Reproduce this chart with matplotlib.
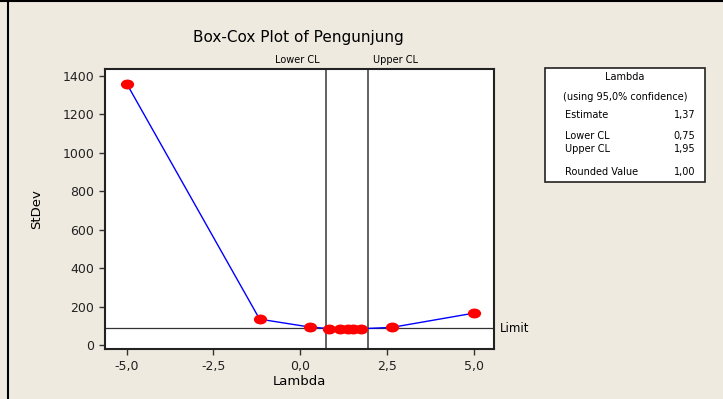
import matplotlib
matplotlib.use("Agg")
import matplotlib.pyplot as plt
from matplotlib.patches import Rectangle
from matplotlib.path import Path
import numpy as np

# Box-Cox data
lam = [-5.0, -1.17, 0.27, 0.82, 1.14, 1.37, 1.51, 1.74, 2.64, 5.0]
stdev = [1360, 135, 94, 86, 85, 84, 85, 85, 92, 166]
limit = 88
lower_cl = 0.75
upper_cl = 1.95
xticks = [-5.0, -2.5, 0.0, 2.5, 5.0]
yticks = [0, 200, 400, 600, 800, 1000, 1200, 1400]

bg = "#eeeae0"
fig = plt.figure(figsize=(7.23, 3.99), dpi=100, facecolor=bg)

# outer frame (top and left edges visible)
fig.add_artist(plt.Line2D([0.011, 0.011], [0, 1], color="black", lw=1.5, transform=fig.transFigure))
fig.add_artist(plt.Line2D([0, 1], [0.998, 0.998], color="black", lw=1.5, transform=fig.transFigure))

# slightly flattened dot marker like the original
circ = Path.unit_circle()
ellipse = Path(circ.vertices * np.array([1.0, 0.72]), circ.codes)

ax = fig.add_axes([0.145, 0.125, 0.538, 0.702])
ax.set_facecolor("white")
ax.plot(lam, stdev, color="blue", lw=1, zorder=2)
ax.plot(lam, stdev, ls="none", marker=ellipse, color="red", ms=8.5, mec="red", zorder=3)
ax.axhline(limit, color="#333333", lw=0.9, zorder=1)
ax.axvline(lower_cl, color="#555555", lw=1.3, zorder=1)
ax.axvline(upper_cl, color="#555555", lw=1.3, zorder=1)

ax.set_xlim(-5.63, 5.58)
ax.set_ylim(-21, 1436)
ax.set_xticks(xticks)
ax.set_xticklabels([f"{t:.1f}".replace(".", ",") for t in xticks])
ax.set_yticks(yticks)
ax.tick_params(labelsize=9, length=4, width=1, color="#333333", labelcolor="#222222")
for s in ax.spines.values():
    s.set_linewidth(1.5)
    s.set_color("#222222")

ax.set_xlabel("Lambda", fontsize=9.5, labelpad=2)
ax.set_ylabel("StDev", fontsize=9.5, labelpad=14)

ax.text(lower_cl - 0.2, 1.015, "Lower CL", transform=ax.get_xaxis_transform(),
        ha="right", va="bottom", fontsize=7)
ax.text(upper_cl + 0.15, 1.015, "Upper CL", transform=ax.get_xaxis_transform(),
        ha="left", va="bottom", fontsize=7)
ax.text(1.015, limit, "Limit", transform=ax.get_yaxis_transform(),
        ha="left", va="center", fontsize=8.5)

fig.text(0.412, 0.905, "Box-Cox Plot of Pengunjung", ha="center", va="center", fontsize=11)

# info box
box = Rectangle((0.754, 0.545), 0.221, 0.285, transform=fig.transFigure,
                facecolor="white", edgecolor="#222222", lw=1.2)
fig.add_artist(box)
fs = 7
fig.text(0.8645, 0.807, "Lambda", ha="center", va="center", fontsize=fs)
fig.text(0.8645, 0.757, "(using 95,0% confidence)", ha="center", va="center", fontsize=fs)
rows = [("Estimate", "1,37", 0.713), ("Lower CL", "0,75", 0.660),
        ("Upper CL", "1,95", 0.627), ("Rounded Value", "1,00", 0.570)]
for name, val, y in rows:
    fig.text(0.782, y, name, ha="left", va="center", fontsize=fs)
    fig.text(0.962, y, val, ha="right", va="center", fontsize=fs)

fig.savefig("out.png", dpi=100, facecolor=bg)
